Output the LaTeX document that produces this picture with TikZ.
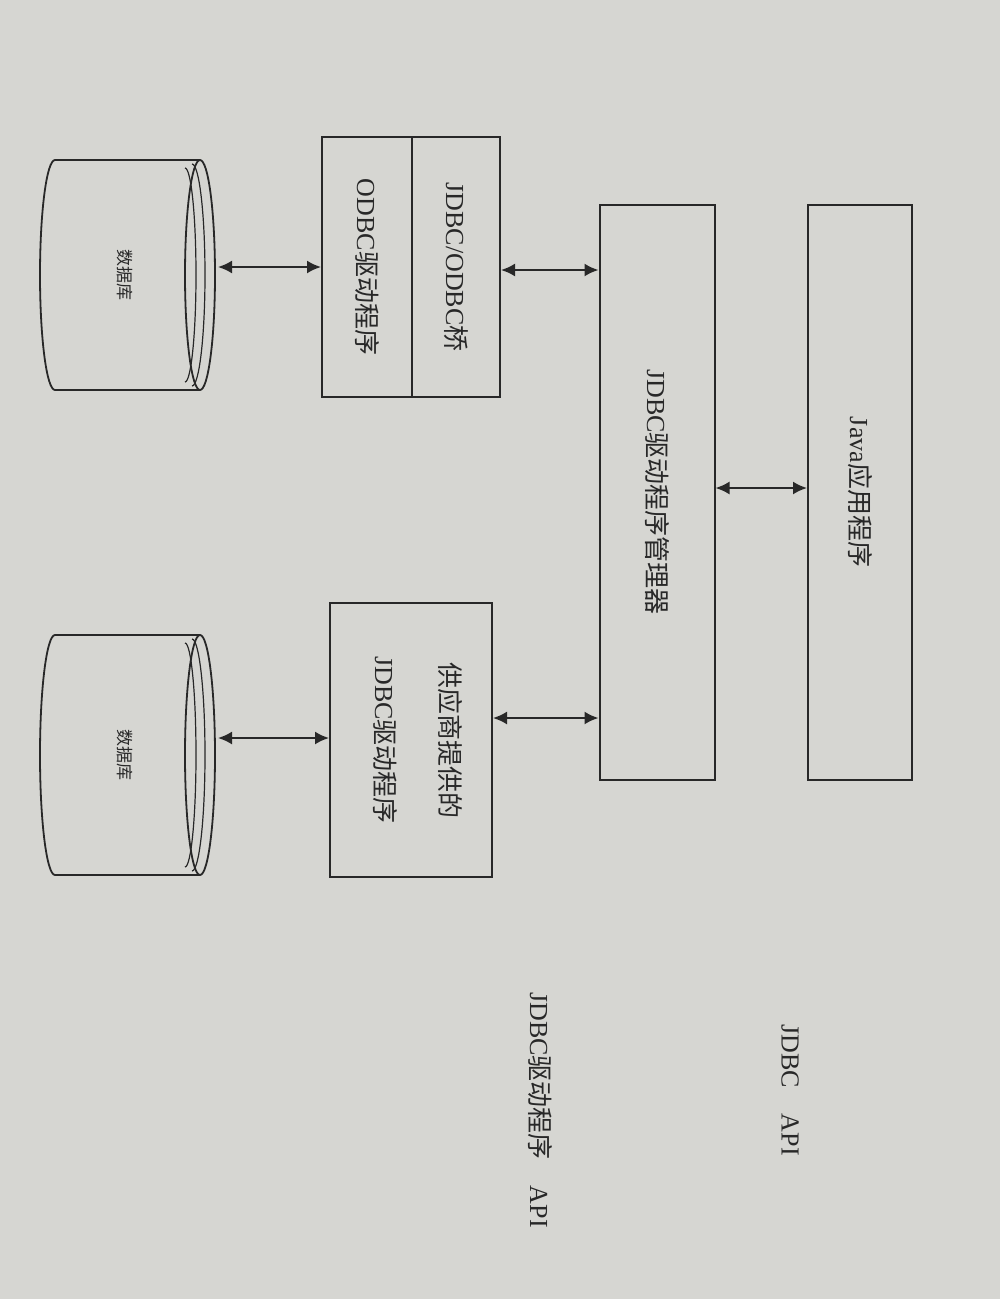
\documentclass[tikz,border=0pt]{standalone}
\usepackage{fontspec}
\setmainfont{Liberation Serif}
\newfontfamily\cjk{Noto Sans CJK SC}
\usetikzlibrary{arrows.meta}
\definecolor{paper}{RGB}{214,214,210}
\definecolor{ink}{RGB}{40,40,40}
\tikzset{
 box/.style={draw=ink,line width=2pt},
 lbl/.style={rotate=-90,font=\fontsize{26}{30}\selectfont,text=ink,inner sep=0pt},
 small/.style={rotate=-90,font=\cjk\fontsize{17}{20}\selectfont,text=ink,inner sep=0pt},
 arr/.style={draw=ink,line width=2pt,{Latex[length=14pt,width=13pt]}-{Latex[length=14pt,width=13pt]}},
 cyl/.style={draw=ink,line width=1.8pt}
}
\begin{document}
\begin{tikzpicture}[x=1pt,y=-1pt]
\fill[paper] (0,0) rectangle (1000,1299);
\useasboundingbox (0,0) rectangle (1000,1299);
% boxes
\node[box,minimum width=104pt,minimum height=575pt] (java) at (860,492) {};
\node[lbl] at (java) {Java{\cjk 应用程序}};
\node[box,minimum width=115pt,minimum height=575pt] (mgr) at (657,492) {};
\node[lbl] at (mgr) {JDBC{\cjk 驱动程序管理器}};
\node[box,minimum width=178pt,minimum height=260pt] (bridge) at (411,267) {};
\draw[ink,line width=1.6pt] (412,137) -- (412,397);
\node[lbl] at (456,267) {JDBC/ODBC{\cjk 桥}};
\node[lbl] at (367,267) {ODBC{\cjk 驱动程序}};
\node[box,minimum width=162pt,minimum height=274pt] (vend) at (411,740) {};
\node[lbl] at (450,740) {\cjk 供应商提供的};
\node[lbl] at (385,740) {JDBC{\cjk 驱动程序}};
% cylinders
\foreach \n/\cy/\r in {db1/275/115,db2/755/120}{
 \draw[cyl] (200,\cy-\r) -- (55,\cy-\r) arc[start angle=90,end angle=270,x radius=15pt,y radius=\r pt] -- (200,\cy+\r);
 \draw[cyl] (200,\cy) ellipse[x radius=15pt,y radius=\r pt];
 \draw[ink,line width=1.2pt] (192,\cy-\r+4) arc[start angle=90,end angle=-90,x radius=13pt,y radius=\r pt-4pt];
 \draw[ink,line width=1.2pt] (185,\cy-\r+8) arc[start angle=90,end angle=-90,x radius=11pt,y radius=\r pt-8pt];
 \coordinate (\n) at (218,\cy);
 \node[small] at (125,\cy) {数据库};
}
% arrows
\draw[arr] (mgr.east |- 0,488) -- (java.west |- 0,488);
\draw[arr] (bridge.east |- 0,270) -- (mgr.west |- 0,270);
\draw[arr] (vend.east |- 0,718) -- (mgr.west |- 0,718);
\draw[arr] (db1 |- 0,267) -- (bridge.west |- 0,267);
\draw[arr] (db2 |- 0,738) -- (vend.west |- 0,738);
% API labels
\node[lbl] (api1) at (790,1090) {JDBC\quad API};
\node[lbl] (api2) at (540,1110) {JDBC{\cjk 驱动程序}\quad API};
\end{tikzpicture}
\end{document}
